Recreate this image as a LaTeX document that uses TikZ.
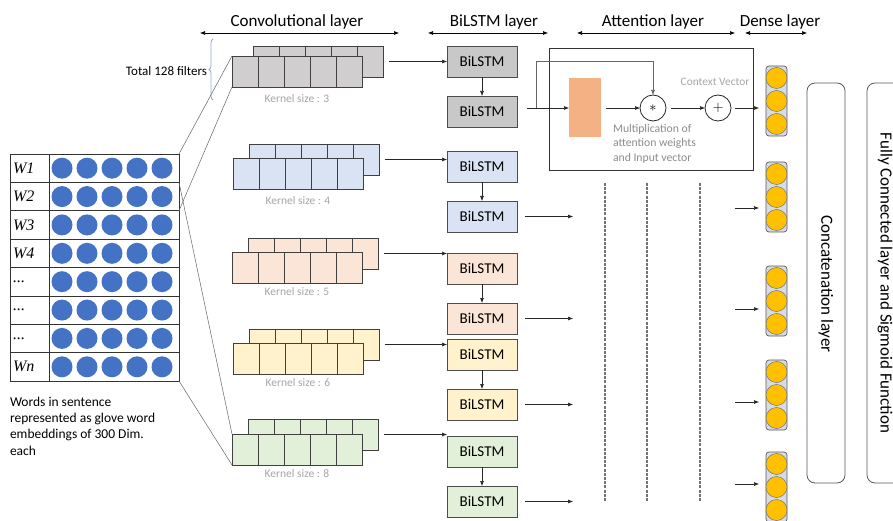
\documentclass[tikz,border=0pt]{standalone}
\usepackage{fontspec}
\setmainfont{Carlito}
\newfontfamily\wfont{Liberation Serif}
\usetikzlibrary{arrows.meta,calc,decorations.pathreplacing}
\definecolor{cgray}{HTML}{D0CECE}
\definecolor{bgray}{HTML}{C8C8C8}
\definecolor{cblue}{HTML}{DAE3F3}
\definecolor{cpink}{HTML}{FBE5D6}
\definecolor{cyel}{HTML}{FFF2CC}
\definecolor{cgreen}{HTML}{E2F0D9}
\definecolor{corange}{HTML}{F4B183}
\definecolor{dotblue}{HTML}{4472C4}
\definecolor{goldc}{HTML}{FFC000}
\definecolor{denseb}{HTML}{D6DCE5}
\definecolor{lblc}{HTML}{A6A6A6}
\definecolor{multc}{HTML}{8C8C8C}
\definecolor{bracec}{HTML}{8FAADC}
\newcommand\dd{...}
\tikzset{
 every node/.style={inner sep=0pt,outer sep=0pt},
 cellrow/.style={draw=black!75,line width=0.8pt,minimum width=130pt,minimum height=31pt,anchor=north west},
 cellsep/.style={draw=black!75,line width=0.8pt},
 lstm/.style={draw=black!70,line width=0.8pt,minimum width=70pt,minimum height=31pt,font=\fontsize{15}{18}\selectfont},
 arr/.style={-{Latex[length=5pt,width=4pt]},line width=0.6pt,draw=black!85},
 harr/.style={{Latex[length=5pt,width=4pt]}-{Latex[length=5pt,width=4pt]},line width=0.6pt},
 klabel/.style={text=lblc,font=\fontsize{11.5}{14}\selectfont},
 head/.style={font=\fontsize{17}{20}\selectfont,anchor=base},
 unit/.style={draw=black!65,fill=denseb,rounded corners=3pt,minimum width=21pt,minimum height=70pt,line width=0.7pt},
 neuron/.style={circle,draw=black!55,fill=goldc,minimum size=21pt,line width=0.5pt},
 dotc/.style={circle,fill=dotblue,minimum size=21pt},
 tline/.style={draw=black!60,line width=0.5pt},
 grid/.style={draw=black!80,line width=0.7pt},
 dline/.style={draw=black!55,line width=1.2pt,dash pattern=on 3pt off 1.2pt},
 bigbox/.style={draw=black!65,rounded corners=8pt,line width=0.8pt},
 vtext/.style={rotate=-90,font=\fontsize{17}{20}\selectfont},
}
\newcommand\convstack[6]{%
 \node[cellrow,fill=#4] (#1b) at (#2+#5,#3-#6) {};
 \foreach \k in {1,...,4} \draw[cellsep] ($(#1b.north west)+(\k*26,0)$) -- ($(#1b.south west)+(\k*26,0)$);
 \node[cellrow,fill=#4] (#1f) at (#2,#3) {};
 \foreach \k in {1,...,4} \draw[cellsep] ($(#1f.north west)+(\k*26,0)$) -- ($(#1f.south west)+(\k*26,0)$);
}
\begin{document}
\begin{tikzpicture}[x=1pt,y=-1pt]
\clip (0,0) rectangle (893,521);
\fill[white] (0,0) rectangle (893,521);

% headers
\node[head] (h1) at (297,27) {Convolutional layer};
\node[head] (h2) at (494,27) {BiLSTM layer};
\node[head] (h3) at (653,27) {Attention layer};
\node[head] (h4) at (780,27) {Dense layer};
\coordinate (h1a) at (200,33); \coordinate (h1b) at (399,33);
\coordinate (h2a) at (428,33); \coordinate (h2b) at (548,33);
\coordinate (h3a) at (577,33); \coordinate (h3b) at (735,33);
\coordinate (h4a) at (745,33); \coordinate (h4b) at (807,33);
\draw[harr] (h1a) -- (h1b);
\draw[harr] (h2a) -- (h2b);
\draw[harr] (h3a) -- (h3b);
\draw[harr] (h4a) -- (h4b);

% input table
\draw[grid] (10,154) rectangle (179,381);
\draw[grid] (49,154) -- (49,381);
\foreach \i in {1,...,7} \draw[grid] (10,154+\i*28.375) -- (179,154+\i*28.375);
\foreach \i in {0,...,8} \coordinate (t\i) at (179,154+\i*28.375);
\foreach \i in {1,...,8} \foreach \j in {0,...,4}
  \node[dotc] (c\i\j) at (62+\j*25,154+\i*28.375-14.19) {};
\foreach \i/\t in {1/W1,2/W2,3/W3,4/W4,5/\dd,6/\dd,7/\dd,8/Wn}
  \node[anchor=west,font=\wfont\itshape\fontsize{16}{18}\selectfont] (w\i) at (13,154+\i*28.375-14.19) {\t};
\node[anchor=north west,align=left,font=\fontsize{13.5}{16.3}\selectfont] (cap) at (10,397)
  {Words in sentence\\represented as glove word\\embeddings of 300 Dim.\\each};

% conv stacks
\convstack{g}{232}{56}{cgray}{21}{10}
\convstack{u}{233}{158}{cblue}{16}{14}
\convstack{p}{232}{252}{cpink}{16}{14}
\convstack{y}{233}{343}{cyel}{16}{14}
\convstack{e}{232}{434}{cgreen}{16}{15}
\node[klabel] (kg) at (297,99) {Kernel size : 3};
\node[klabel] (ku) at (298,201) {Kernel size : 4};
\node[klabel] (kp) at (297,292) {Kernel size : 5};
\node[klabel] (ky) at (298,383) {Kernel size : 6};
\node[klabel] (ke) at (297,474) {Kernel size : 8};

% filters brace
\node[anchor=east,font=\fontsize{13}{15}\selectfont] (tot) at (207,71) {Total 128 filters};
\coordinate (br1) at (213,100); \coordinate (br2) at (213,39);
\draw[bracec,line width=0.8pt,decorate,decoration={brace,amplitude=4pt}] (br1) -- (br2);

% lines from table to stacks
\draw[tline] (t0) -- (gf.north west);
\draw[tline] (t2) -- (gf.south west);
\draw[tline] (t1) -- (ef.north west);
\draw[tline] (t8) -- (ef.south west);

% BiLSTM boxes
\node[lstm,fill=bgray,anchor=north west] (g1) at (447,46) {BiLSTM};
\node[lstm,fill=bgray,anchor=north west] (g2) at (447,96) {BiLSTM};
\node[lstm,fill=cblue,anchor=north west] (u1) at (447,151) {BiLSTM};
\node[lstm,fill=cblue,anchor=north west] (u2) at (447,201) {BiLSTM};
\node[lstm,fill=cpink,anchor=north west] (p1) at (447,253) {BiLSTM};
\node[lstm,fill=cpink,anchor=north west] (p2) at (447,303) {BiLSTM};
\node[lstm,fill=cyel,anchor=north west] (y1) at (447,339) {BiLSTM};
\node[lstm,fill=cyel,anchor=north west] (y2) at (447,389) {BiLSTM};
\node[lstm,fill=cgreen,anchor=north west] (e1) at (447,436) {BiLSTM};
\node[lstm,fill=cgreen,anchor=north west] (e2) at (447,486) {BiLSTM};

\foreach \s in {g,u,p,y,e} {
  \draw[arr] ([xshift=6pt]\s b.east) -- (\s b.east -| \s1.west);
  \draw[arr] (\s1.south) -- (\s2.north);
}
\foreach \s in {u,p,y,e}
  \draw[arr] ([xshift=8pt]\s2.east) -- ($(\s2.east)+(56,0)$);

% attention block
\node[draw=black!80,line width=0.9pt,minimum width=204pt,minimum height=122pt,anchor=north west] (att) at (549,48) {};
\node[fill=corange,minimum width=32pt,minimum height=59pt] (ow) at (585,108) {};
\node[circle,draw=black!85,line width=0.8pt,minimum size=26pt,font=\fontsize{14}{16}\selectfont] (mul) at (653,108) {$\ast$};
\node[circle,draw=black!85,line width=0.8pt,minimum size=26pt,font=\fontsize{14}{16}\selectfont] (add) at (718,108) {$+$};
\coordinate (a0) at (527,108);
\coordinate (a1) at (536,108);
\coordinate (a2) at (536,61);
\draw[arr] (a0) -- (ow.west);
\draw[arr,draw=black!60] (a1) -- (a2) -| (mul.north);
\draw[arr] ([xshift=5pt]ow.east) -- (mul.west);
\draw[arr] ([xshift=5pt]mul.east) -- (add.west);
\node[text=lblc,font=\fontsize{11.4}{13}\selectfont] (ctx) at (715,82) {Context Vector};
\node[anchor=north west,align=left,text=multc,font=\fontsize{11.7}{14.5}\selectfont] (mtx) at (613,124)
  {Multiplication of\\attention weights\\and Input vector};

% dashed lines
\foreach \x/\n in {605/1,647/2,700/3} {
  \coordinate (dt\n) at (\x,183); \coordinate (db\n) at (\x,502);
  \draw[dline] (dt\n) -- (db\n);
}

% dense units
\foreach \i/\y in {1/66,2/162,3/266,4/360,5/452} {
  \node[unit,anchor=north] (d\i) at (776.5,\y) {};
  \node[neuron] (n\i-1) at ($(d\i.center)+(0,-23)$) {};
  \node[neuron] (n\i-2) at (d\i.center) {};
  \node[neuron] (n\i-3) at ($(d\i.center)+(0,23)$) {};
}
\draw[arr,shorten >=7pt] ([xshift=4pt]add.east) -- (add.east -| d1.west);
\foreach \i/\y in {2/208,3/309,4/402,5/484} {
  \coordinate (in\i) at (735,\y);
  \draw[arr,shorten >=7pt] (in\i) -- (in\i -| d\i.west);
}

% concatenation and fully connected
\node[bigbox,minimum width=38pt,minimum height=400pt] (cat) at (826,283) {};
\node[vtext] (catt) at (826,284) {Concatenation layer};
\node[bigbox,minimum width=53pt,minimum height=400pt] (fc) at (893.5,283) {};
\node[vtext] (fct) at (885,283) {Fully Connected layer and Sigmoid Function};
\end{tikzpicture}
\end{document}
